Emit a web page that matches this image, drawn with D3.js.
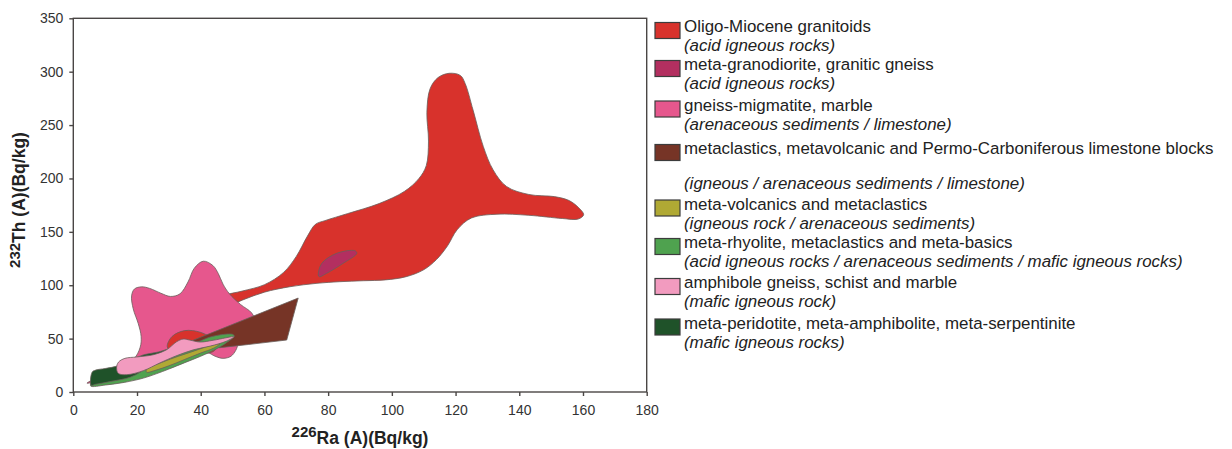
<!DOCTYPE html>
<html>
<head>
<meta charset="utf-8">
<script src="https://cdn.jsdelivr.net/npm/d3@7"></script>
<style>
  body { margin: 0; background: #fff; }
  svg { display: block; font-family: "Liberation Sans", Arial, Helvetica, sans-serif; }
</style>
</head>
<body>
<svg id="chart" width="1232" height="449"></svg>
<script>
// legend entries
const rockNames = [
  "Oligo-Miocene granitoids",
  "meta-granodiorite, granitic gneiss",
  "gneiss-migmatite, marble",
  "metaclastics, metavolcanic and Permo-Carboniferous limestone blocks",
  "meta-volcanics and metaclastics",
  "meta-rhyolite, metaclastics and meta-basics",
  "amphibole gneiss, schist and marble",
  "meta-peridotite, meta-amphibolite, meta-serpentinite"
];
const rockTypes = [
  "(acid igneous rocks)",
  "(acid igneous rocks)",
  "(arenaceous sediments / limestone)",
  "(igneous / arenaceous sediments / limestone)",
  "(igneous rock / arenaceous sediments)",
  "(acid igneous rocks / arenaceous sediments / mafic igneous rocks)",
  "(mafic igneous rock)",
  "(mafic igneous rocks)"
];
const rockColors = ["#d8322c", "#b32f60", "#e6578d", "#763426", "#b0a934", "#4fa24f", "#f29bbf", "#1f5229"];

// field outlines, [226Ra, 232Th] in Bq/kg
const granitoids = [[42,80],[47,90],[53,94.5],[60,100.5],[66,112],[70,127],[73.5,146],[76,157],[79,160.5],[86,167],[96,176.5],[104,188],[108.5,200],[110.8,212],[111.5,235],[111,262],[112,284],[114.5,294.5],[118,298.5],[121.5,296.5],[123,289],[125.5,264],[128.7,230],[131.8,208],[136,192.5],[143,185],[151,183],[155.5,179.5],[158.5,173],[160.2,166],[158.5,162],[153.5,162.5],[143,165.5],[133,166.5],[125,163],[120.5,152],[117.5,137],[114,124],[110,114.5],[104.5,108],[98,105],[91,104.2],[83.5,103.3],[76.5,101.8],[68,98.6],[60,93.5],[53,86],[45,76]];
const granitoidsInlier = [[29.5,42.4],[31,52],[35,57.5],[39.8,56],[43,51],[45,42.4],[43.9,37.8],[37.7,36.2],[31,37.8]];
const granodiorite = [[76.9,109.6],[78,120.5],[82.7,129.9],[88.4,132.3],[89,129.9],[84.7,120.5],[79.5,111.1],[77.2,108]];
const gneissMigmatite = [[40.8,122.5],[43.8,118.5],[45.5,111],[47,101],[49,92],[52.5,82],[56,74],[57,66],[55,56],[52,46],[51,39],[49.5,33.5],[47,31.5],[44.5,33.5],[42,37],[36,34],[28,29],[20,22],[12,14],[6,9],[4.3,8.3],[5.2,10],[12,19],[19,31],[21,42],[21.3,52],[20.4,64],[18.8,78],[18.3,90],[19.2,96.5],[21.5,98.5],[24,97],[27.5,92.5],[30.5,89.5],[33.5,92],[36,103],[38,116]];
const metaclastics = [[36,46.5],[70.6,88],[67,48.7],[55,44.5],[46,41.5],[40,43]];
const metaVolcanics = [[23,21],[28,28],[33,33.5],[38,38.5],[43,43.5],[46,45],[44,41],[40,36.5],[35,30.5],[30,24.5],[26,20.5],[23,18.5]];
const metaRhyolite = [[5.5,5.5],[10,6.5],[16,9],[22,13],[26,17],[30,21.5],[35,27.5],[40,33.5],[44,39],[48,46],[50.5,52.5],[50,54],[46,53.5],[43,51.5],[40,48],[36,43],[30,36],[22,27],[14,19],[8,13],[5.5,8]];
const amphiboleGneiss = [[14.1,17.5],[13.6,23],[14.2,28],[16.2,31.5],[19.9,32.8],[25.1,34.9],[29.3,39.6],[32.4,47],[34.5,49.6],[36.6,48.6],[39.8,46.8],[44,48.5],[50.5,51.8],[48,47.5],[43,43],[37.7,39.5],[32,33.5],[27,27],[22,20],[16.8,16.2]];
const peridotite = [[5.6,6.4],[5.9,18.5],[7,20.5],[10,22],[14.1,24.5],[18,29.5],[21.5,34.3],[26.7,37.5],[31,40.8],[33,39],[30,33],[24,24],[18,14],[12,10],[7,7.2]];

const xTicks = [0, 20, 40, 60, 80, 100, 120, 140, 160, 180];
const yTicks = [0, 50, 100, 150, 200, 250, 300, 350];

// draw order: [outline, legend index, smooth?]
const fields = [
  [granitoids, 0, true],
  [gneissMigmatite, 2, true],
  [granitoidsInlier, 0, true],
  [metaclastics, 3, false],
  [metaRhyolite, 5, true],
  [metaVolcanics, 4, true],
  [peridotite, 7, true],
  [amphiboleGneiss, 6, true],
  [granodiorite, 1, true]
];

const svg = d3.select("#chart");
const plot = { left: 73.3, right: 646.7, top: 18.3, bottom: 392 };

const x = d3.scaleLinear().domain([0, 180]).range([plot.left, plot.right]);
const y = d3.scaleLinear().domain([0, 350]).range([plot.bottom, plot.top]);

// fields
const smooth = d3.line().x(d => x(d[0])).y(d => y(d[1])).curve(d3.curveCatmullRomClosed.alpha(0.5));
const straight = d3.line().x(d => x(d[0])).y(d => y(d[1])).curve(d3.curveLinearClosed);

svg.append("g")
  .selectAll("path")
  .data(fields)
  .enter()
  .append("path")
  .attr("d", d => (d[2] ? smooth : straight)(d[0]))
  .attr("fill", d => rockColors[d[1]])
  .attr("stroke", "#6a5e5a")
  .attr("stroke-width", 0.8)
  .attr("stroke-linejoin", "round");

// frame
svg.append("rect")
  .attr("x", plot.left)
  .attr("y", plot.top)
  .attr("width", plot.right - plot.left)
  .attr("height", plot.bottom - plot.top)
  .attr("fill", "none")
  .attr("stroke", "#4a4645")
  .attr("stroke-width", 1.4);

// axes
const xAxis = svg.append("g")
  .attr("transform", `translate(0, ${plot.bottom})`)
  .call(d3.axisBottom(x).tickValues(xTicks).tickSize(4).tickSizeOuter(0).tickPadding(9));
const yAxis = svg.append("g")
  .attr("transform", `translate(${plot.left}, 0)`)
  .call(d3.axisLeft(y).tickValues(yTicks).tickSize(4).tickSizeOuter(0).tickPadding(6));

[xAxis, yAxis].forEach(a => {
  a.select(".domain").remove();
  a.selectAll(".tick line").attr("stroke", "#4a4645").attr("stroke-width", 1.4);
  a.selectAll(".tick text")
    .attr("fill", "#333")
    .style("font-size", "14px")
    .style("font-family", '"Liberation Sans", Arial, sans-serif');
});

// axis titles
const xTitle = svg.append("text")
  .attr("x", (plot.left + plot.right) / 2)
  .attr("y", 444)
  .attr("text-anchor", "middle")
  .attr("font-weight", "bold")
  .attr("fill", "#222");
xTitle.append("tspan").attr("font-size", "15px").attr("dy", -7).text("226");
xTitle.append("tspan").attr("font-size", "17.5px").attr("dy", 7).text("Ra (A)(Bq/kg)");

const yTitle = svg.append("text")
  .attr("transform", `translate(25, 200) rotate(-90)`)
  .attr("text-anchor", "middle")
  .attr("font-weight", "bold")
  .attr("fill", "#222");
yTitle.append("tspan").attr("font-size", "15px").attr("dy", -5).text("232");
yTitle.append("tspan").attr("font-size", "17.5px").attr("dy", 5).text("Th (A)(Bq/kg)");

// legend
const legendTop = [26.5, 64.5, 105, 148.5, 204, 242.5, 282.5, 323];
const legendSubDy = [19, 19, 19, 35, 19, 19, 19, 19];
const legend = svg.append("g");

const rows = legend.selectAll("g")
  .data(rockNames)
  .enter()
  .append("g")
  .attr("transform", (d, i) => `translate(655, ${legendTop[i]})`);

rows.append("rect")
  .attr("x", 0)
  .attr("y", -4)
  .attr("width", 25)
  .attr("height", 16)
  .attr("fill", (d, i) => rockColors[i])
  .attr("stroke", "#3c3c3c")
  .attr("stroke-width", 1.2);

const mainText = rows.append("text")
  .attr("x", 29)
  .attr("y", 0)
  .attr("dy", "0.35em")
  .attr("fill", "#222")
  .style("font-size", "16px")
  .text(d => d);

const subText = rows.append("text")
  .attr("x", 29)
  .attr("y", (d, i) => legendSubDy[i])
  .attr("dy", "0.35em")
  .attr("fill", "#222")
  .style("font-size", "16px")
  .style("font-style", "italic")
  .text((d, i) => rockTypes[i]);

// fit the longest legend line to the width of the original
const longest = d3.max(mainText.nodes(), n => n.getComputedTextLength());
const fs = 16 * 530 / longest;
mainText.style("font-size", fs + "px");
subText.style("font-size", fs + "px");
</script>
</body>
</html>
